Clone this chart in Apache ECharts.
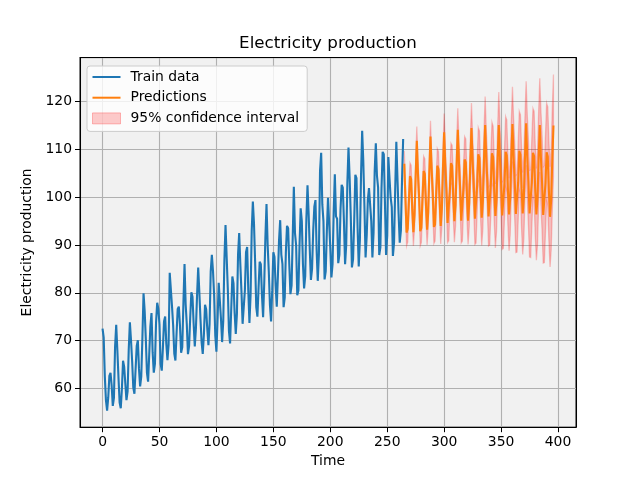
<!DOCTYPE html>
<html>
<head>
<meta charset="utf-8">
<script src="https://cdn.jsdelivr.net/npm/echarts@6/dist/echarts.min.js"></script>
<style>html,body{margin:0;padding:0;background:#fff}#c{width:640px;height:480px}</style>
</head>
<body>
<div id="c"></div>
<script>
// Training data (monthly index 0..264)
const trainValues = [
72.5052,70.672,62.4502,57.4714,55.3151,58.0904,62.6202,63.2485,60.5846,56.3154,58.0005,68.7145,
73.3057,67.9869,62.2221,57.0329,55.8137,59.9005,65.7655,64.4816,61.0005,57.5322,59.3417,68.1354,
73.8152,70.062,65.61,60.1586,58.8734,63.8918,68.8694,70.0669,64.1151,60.3789,62.4643,70.5777,
79.8703,76.1622,70.2928,63.2384,61.4065,67.1097,72.9816,75.7655,67.5152,63.2832,65.1078,73.8631,
77.9188,76.6822,73.3523,65.1081,63.6892,68.4722,74.0301,75.0448,69.3053,65.8735,69.0706,84.1949,
84.3598,77.1726,73.1964,67.2781,65.8218,71.4654,76.614,77.1052,73.061,67.4365,68.5665,77.6839,
86.0214,77.5573,73.365,67.15,68.8162,74.8448,80.0928,79.1606,73.5743,68.7538,72.5166,79.4894,
85.2855,80.1643,74.5275,69.6441,67.1784,71.2078,77.5081,76.5374,72.3541,69.0286,73.4992,84.5159,
87.9464,84.5561,79.4747,71.0578,67.6762,74.3297,82.1048,82.0605,74.6031,69.681,74.0446,86.7893,
94.1977,87.5,80.9,72.0,69.4,76.5,83.4,82.0,75.8,71.4,75.5,88.0,
92.5,86.0,80.3,73.5,73.8,80.5,88.5,89.6,80.5,73.7,79.5,93.0,
99.1,94.5,86.5,77.0,75.0,81.0,86.5,86.0,79.5,74.9,82.0,91.5,
98.6,90.0,84.5,77.5,74.0,80.5,88.5,87.5,81.5,77.1,83.5,91.0,
95.2,88.0,86.0,77.0,79.0,88.5,94.0,93.5,86.0,79.7,81.5,91.5,
102.2,92.5,90.0,79.5,80.5,90.0,97.7,95.0,86.0,80.9,83.5,95.5,
102.5,96.5,89.0,82.7,85.0,93.0,98.0,99.4,89.0,82.5,88.0,105.5,
109.3,98.5,95.0,82.8,84.5,93.0,99.9,99.5,89.5,83.2,86.0,97.0,
104.8,96.0,95.5,86.2,88.0,97.5,102.6,102.0,95.0,86.0,90.0,103.0,
110.4,104.0,96.0,85.3,87.0,95.0,104.7,104.0,93.5,85.5,91.0,104.5,
113.9,107.5,98.0,87.4,92.0,99.5,101.9,101.5,95.0,87.4,92.5,105.5,
111.3,104.5,102.0,87.9,89.5,102.0,109.5,109.0,99.0,87.9,92.0,108.4,
104.0,100.0,98.0,87.7,90.5,101.5,111.6,111.5,96.5,90.5,93.0,103.5,
112.2
];
const predStart = 265;
// Predictions (index 265..396)
const predValues = [
107.0,99.8,92.6,93.4,99.0,104.4,103.8,97.5,92.7,96.3,104.6,
111.8,105.0,100.0,92.9,93.6,99.8,105.5,104.9,98.6,93.2,96.8,105.4,
112.7,105.9,100.9,93.8,94.3,100.6,106.6,105.9,99.4,94.0,97.7,106.3,
113.6,106.7,101.6,94.6,95.0,101.3,107.1,106.6,100.1,95.0,98.3,106.9,
114.1,107.2,102.1,95.1,95.5,101.9,107.9,107.3,100.6,95.1,98.8,107.3,
114.5,107.6,102.6,95.5,95.9,102.5,109.0,108.2,101.2,95.7,99.3,107.9,
115.1,108.1,103.0,96.0,96.3,102.7,109.2,108.4,101.4,96.1,99.6,108.1,
115.1,108.2,103.1,96.2,96.5,102.9,109.5,108.7,101.6,96.4,99.8,108.2,
115.3,108.4,103.3,96.5,96.7,103.1,109.7,108.9,101.8,96.6,100.0,108.4,
115.5,108.4,103.2,96.6,96.6,103.0,109.3,108.6,101.5,96.4,99.8,108.2,
115.1,108.2,103.0,96.3,96.5,102.9,109.4,108.5,101.3,95.9,99.5,108.0,
115.0
];
// Half-width of the 95% confidence interval for each prediction
const ciHalfWidth = [
2.7,2.7,2.8,2.8,2.8,2.8,2.9,2.9,2.9,2.9,2.9,
3.0,3.0,3.0,3.1,3.1,3.1,3.1,3.2,3.2,3.2,3.3,3.3,
3.3,3.4,3.4,3.5,3.5,3.6,3.6,3.7,3.7,3.8,3.8,3.9,
3.9,4.0,4.0,4.1,4.1,4.2,4.2,4.3,4.3,4.4,4.4,4.5,
4.5,4.6,4.6,4.7,4.7,4.8,4.8,4.9,5.0,5.0,5.1,5.1,
5.2,5.3,5.3,5.4,5.5,5.5,5.6,5.7,5.7,5.8,5.9,5.9,
6.0,6.1,6.2,6.2,6.3,6.4,6.5,6.5,6.6,6.7,6.8,6.8,
6.9,7.0,7.1,7.1,7.2,7.3,7.4,7.5,7.5,7.6,7.7,7.8,
7.8,7.9,8.0,8.1,8.2,8.2,8.3,8.4,8.5,8.6,8.7,8.7,
8.8,8.9,9.0,9.1,9.2,9.3,9.3,9.4,9.5,9.6,9.7,9.8,
9.8,9.9,10.0,10.1,10.2,10.2,10.3,10.4,10.5,10.5,10.6,10.7,
10.7
];
const xTickStep = 50;
const yTickStep = 10;
const xRange = [-19.8, 415.8];
const yRange = [51.86, 129.23];

const trainData = trainValues.map((v, i) => [i, v]);
const predData = predValues.map((v, i) => [predStart + i, v]);
const ciData = predValues.map((v, i) => [predStart + i, v - ciHalfWidth[i], v + ciHalfWidth[i]]);

const FONT = 'DejaVu Sans';
const chart = echarts.init(document.getElementById('c'), null, {renderer: 'canvas'});

const tickFmt = step => v => (Math.abs(v / step - Math.round(v / step)) < 1e-6 ? String(Math.round(v)) : '');
const borderAxis = {
  show: true,
  axisLine: {show: true, onZero: false, lineStyle: {color: '#000', width: 1}},
  axisTick: {show: false}, axisLabel: {show: false}, splitLine: {show: false}
};

const option = {
  animation: false,
  backgroundColor: '#ffffff',
  textStyle: {fontFamily: FONT},
  title: {
    text: 'Electricity production',
    left: 323, top: 30, textAlign: 'center',
    textStyle: {fontFamily: FONT, fontSize: 16.7, fontWeight: 'normal', color: '#000'}
  },
  grid: {
    left: 80, right: 64, top: 57.6, bottom: 52.8,
    show: true, backgroundColor: '#f1f1f1', borderColor: '#000', borderWidth: 1
  },
  legend: {
    orient: 'vertical', left: 87, top: 66,
    padding: [4, 8, 6, 5],
    itemWidth: 28, itemHeight: 11, itemGap: 6.7,
    backgroundColor: 'rgba(255,255,255,0.8)', borderColor: '#cccccc', borderWidth: 1, borderRadius: 3,
    textStyle: {fontFamily: FONT, fontSize: 13.9, color: '#000', lineHeight: 14, padding: [0, 0, 0, 5]},
    data: [
      {name: 'Train data', icon: 'path://M0,0H28V2H0Z', itemStyle: {color: '#1f77b4', borderWidth: 0}},
      {name: 'Predictions', icon: 'path://M0,0H28V2H0Z', itemStyle: {color: '#ff7f0e', borderWidth: 0}},
      {name: '95% confidence interval', icon: 'rect', itemStyle: {color: 'rgba(255,0,0,0.2)', borderColor: 'rgba(255,0,0,0.25)', borderWidth: 1}}
    ]
  },
  xAxis: [{
    type: 'value', min: xRange[0], max: xRange[1], splitNumber: 8,
    name: 'Time', nameLocation: 'middle', nameGap: 27,
    nameTextStyle: {fontFamily: FONT, fontSize: 13.9, color: '#000'},
    axisLine: {show: true, onZero: false, lineStyle: {color: '#000', width: 1}},
    axisTick: {show: true, length: 5, lineStyle: {color: '#000'}},
    axisLabel: {
      show: true, margin: 8, color: '#000', fontSize: 13.9, fontFamily: FONT,
      showMinLabel: false, showMaxLabel: false, formatter: tickFmt(xTickStep)
    },
    splitLine: {show: true, lineStyle: {color: '#b0b0b0', width: 1.1}}
  }, Object.assign({type: 'value', position: 'top', min: xRange[0], max: xRange[1]}, borderAxis)],
  yAxis: [{
    type: 'value', min: yRange[0], max: yRange[1], splitNumber: 8,
    name: 'Electricity production', nameLocation: 'middle', nameGap: 41, nameRotate: 90,
    nameTextStyle: {fontFamily: FONT, fontSize: 13.9, color: '#000'},
    axisLine: {show: true, onZero: false, lineStyle: {color: '#000', width: 1}},
    axisTick: {show: true, length: 5, lineStyle: {color: '#000'}},
    axisLabel: {
      show: true, margin: 8, color: '#000', fontSize: 13.9, fontFamily: FONT,
      showMinLabel: false, showMaxLabel: false, formatter: tickFmt(yTickStep)
    },
    splitLine: {show: true, lineStyle: {color: '#b0b0b0', width: 1.1}}
  }, Object.assign({type: 'value', position: 'right', min: yRange[0], max: yRange[1]}, borderAxis)],
  series: [
    {
      name: '95% confidence interval',
      type: 'custom',
      z: 1,
      itemStyle: {color: 'rgba(255,0,0,0.2)'},
      encode: {x: 0, y: [1, 2]},
      data: ciData,
      renderItem: function (params, api) {
        if (params.dataIndex !== 0) return null;
        const pts = [];
        for (let i = 0; i < ciData.length; i++) pts.push(api.coord([ciData[i][0], ciData[i][2]]));
        for (let i = ciData.length - 1; i >= 0; i--) pts.push(api.coord([ciData[i][0], ciData[i][1]]));
        return {
          type: 'polygon',
          shape: {points: pts},
          style: {fill: 'rgba(255,0,0,0.22)', stroke: 'rgba(255,0,0,0.22)', lineWidth: 1.3}
        };
      }
    },
    {
      name: 'Train data', type: 'line', data: trainData, symbol: 'none', z: 3,
      lineStyle: {color: '#1f77b4', width: 2.1}, itemStyle: {color: '#1f77b4'}
    },
    {
      name: 'Predictions', type: 'line', data: predData, symbol: 'none', z: 4,
      lineStyle: {color: '#ff7f0e', width: 2.1}, itemStyle: {color: '#ff7f0e'}
    }
  ]
};
chart.setOption(option);
</script>
</body>
</html>
